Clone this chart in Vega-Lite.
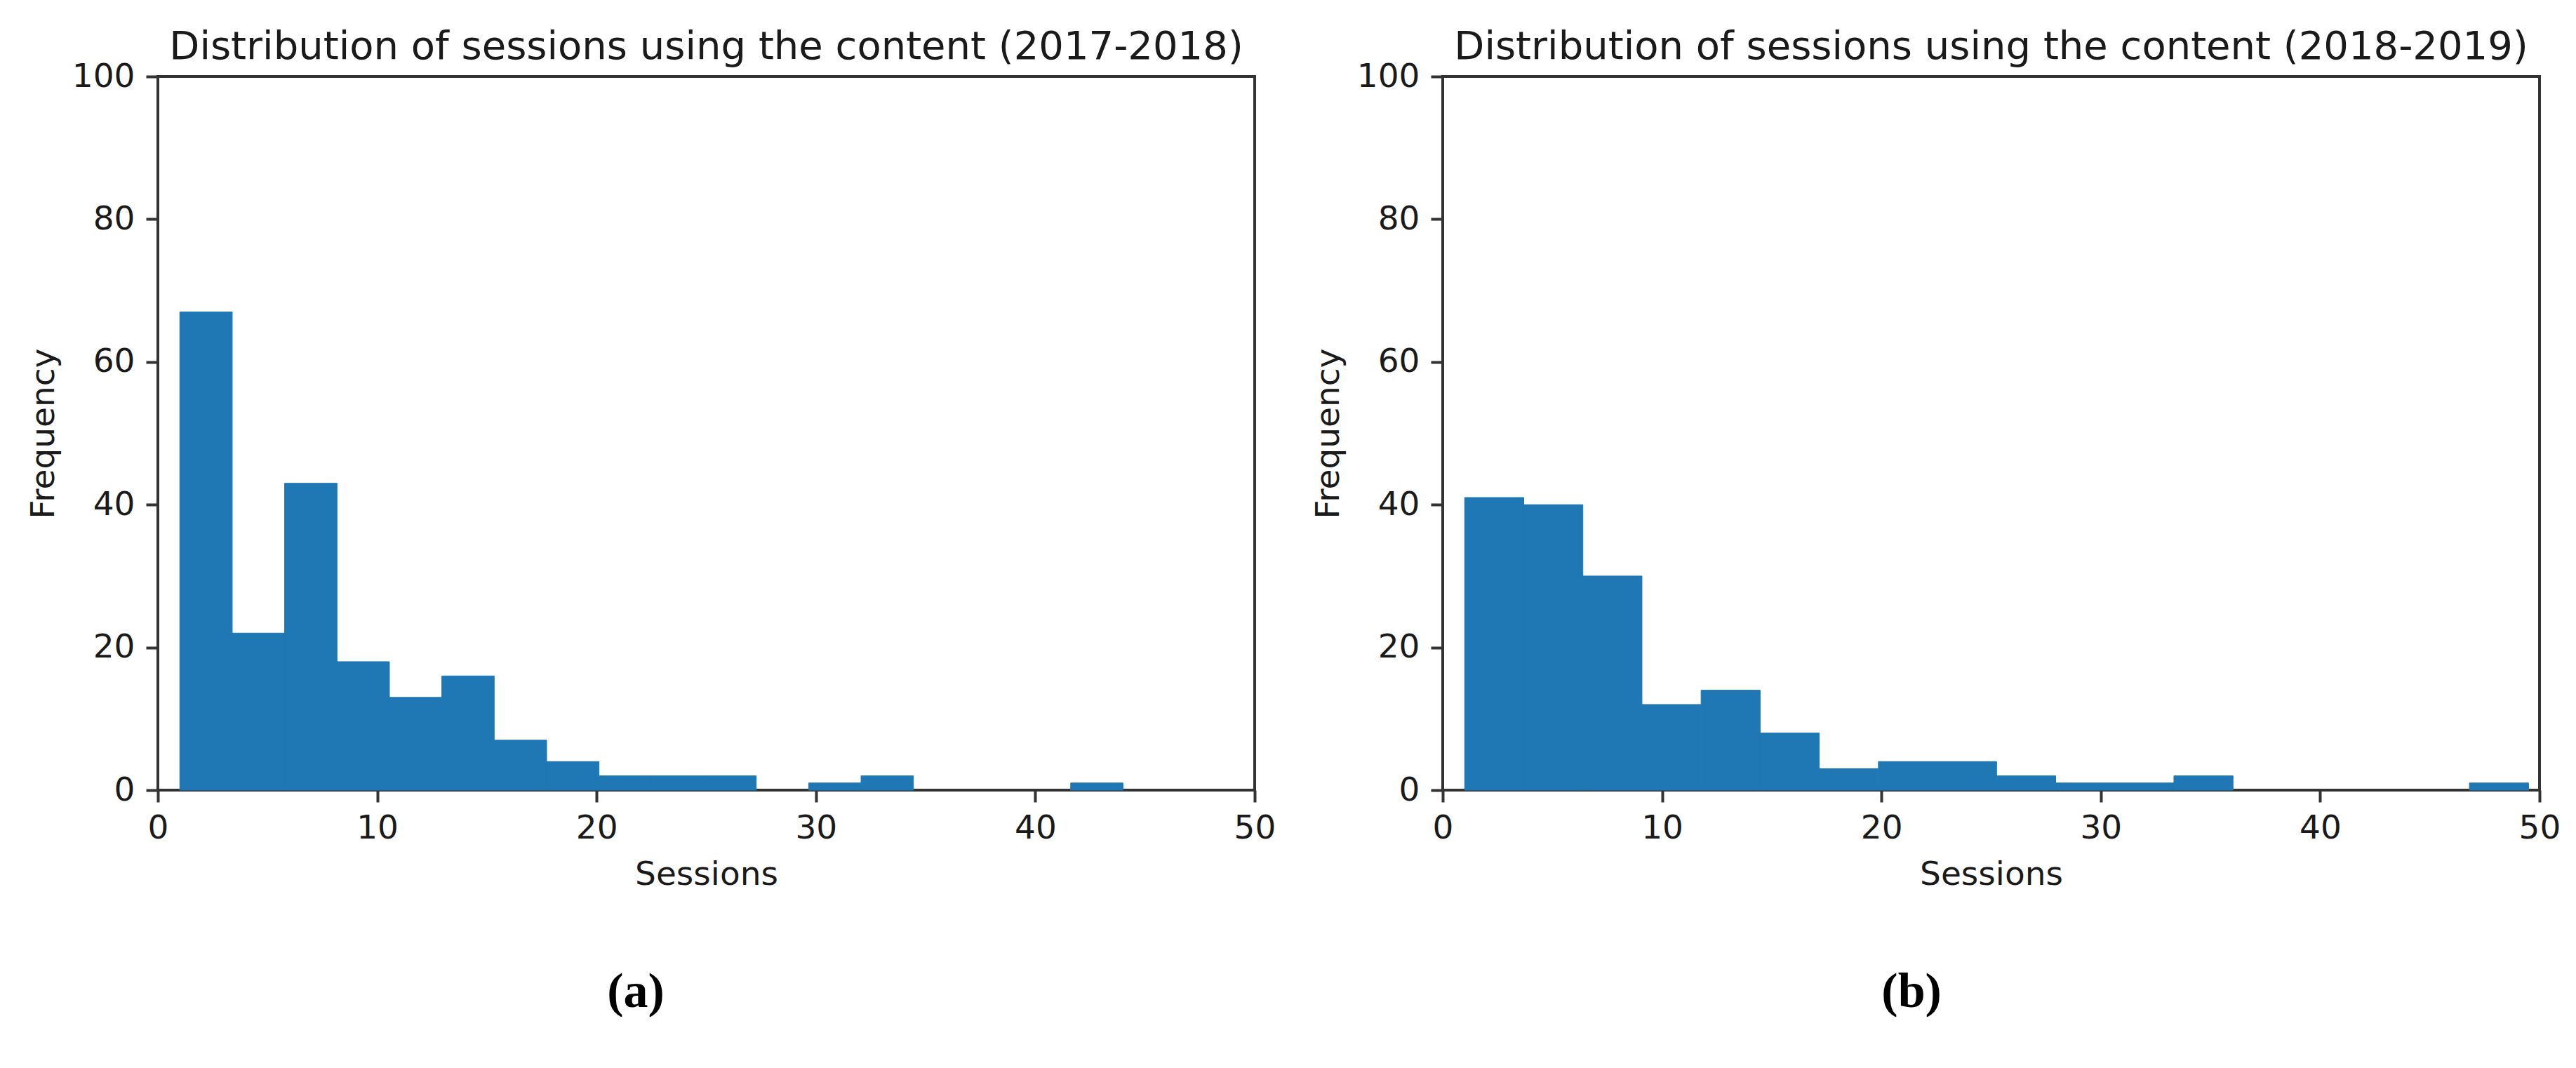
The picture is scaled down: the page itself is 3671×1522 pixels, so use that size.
{
  "$schema": "https://vega.github.io/schema/vega-lite/v6.json",
  "background": "white",
  "padding": {"left": 36, "top": 37, "right": 0, "bottom": 0},
  "datasets": {
    "a": [
      {"bin_start": 1.000, "bin_end": 3.389, "count": 67},
      {"bin_start": 3.389, "bin_end": 5.778, "count": 22},
      {"bin_start": 5.778, "bin_end": 8.167, "count": 43},
      {"bin_start": 8.167, "bin_end": 10.556, "count": 18},
      {"bin_start": 10.556, "bin_end": 12.944, "count": 13},
      {"bin_start": 12.944, "bin_end": 15.333, "count": 16},
      {"bin_start": 15.333, "bin_end": 17.722, "count": 7},
      {"bin_start": 17.722, "bin_end": 20.111, "count": 4},
      {"bin_start": 20.111, "bin_end": 22.500, "count": 2},
      {"bin_start": 22.500, "bin_end": 24.889, "count": 2},
      {"bin_start": 24.889, "bin_end": 27.278, "count": 2},
      {"bin_start": 27.278, "bin_end": 29.667, "count": 0},
      {"bin_start": 29.667, "bin_end": 32.056, "count": 1},
      {"bin_start": 32.056, "bin_end": 34.444, "count": 2},
      {"bin_start": 34.444, "bin_end": 36.833, "count": 0},
      {"bin_start": 36.833, "bin_end": 39.222, "count": 0},
      {"bin_start": 39.222, "bin_end": 41.611, "count": 0},
      {"bin_start": 41.611, "bin_end": 44.000, "count": 1}
    ],
    "b": [
      {"bin_start": 1.000, "bin_end": 3.694, "count": 41},
      {"bin_start": 3.694, "bin_end": 6.389, "count": 40},
      {"bin_start": 6.389, "bin_end": 9.083, "count": 30},
      {"bin_start": 9.083, "bin_end": 11.778, "count": 12},
      {"bin_start": 11.778, "bin_end": 14.472, "count": 14},
      {"bin_start": 14.472, "bin_end": 17.167, "count": 8},
      {"bin_start": 17.167, "bin_end": 19.861, "count": 3},
      {"bin_start": 19.861, "bin_end": 22.556, "count": 4},
      {"bin_start": 22.556, "bin_end": 25.250, "count": 4},
      {"bin_start": 25.250, "bin_end": 27.944, "count": 2},
      {"bin_start": 27.944, "bin_end": 30.639, "count": 1},
      {"bin_start": 30.639, "bin_end": 33.333, "count": 1},
      {"bin_start": 33.333, "bin_end": 36.028, "count": 2},
      {"bin_start": 36.028, "bin_end": 38.722, "count": 0},
      {"bin_start": 38.722, "bin_end": 41.417, "count": 0},
      {"bin_start": 41.417, "bin_end": 44.111, "count": 0},
      {"bin_start": 44.111, "bin_end": 46.806, "count": 0},
      {"bin_start": 46.806, "bin_end": 49.500, "count": 1}
    ]
  },
  "config": {
    "font": "DejaVu Sans",
    "view": {"stroke": "#333333", "strokeWidth": 4},
    "axis": {
      "grid": false, "domain": false,
      "tickSize": 17, "tickWidth": 4, "tickColor": "#333333",
      "labelFont": "DejaVu Sans", "labelFontSize": 47, "labelColor": "#1a1a1a",
      "labelFlush": false, "labelOverlap": false,
      "titleFont": "DejaVu Sans", "titleFontSize": 47, "titleFontWeight": "normal", "titleColor": "#1a1a1a"
    },
    "axisX": {"labelPadding": 14, "titlePadding": 20},
    "axisY": {"labelPadding": 16, "titlePadding": 16},
    "title": {"font": "DejaVu Sans", "fontSize": 56, "fontWeight": "normal", "color": "#1a1a1a"},
    "concat": {"spacing": 47}
  },
  "hconcat": [
    {
      "title": {"text": "(a)", "orient": "bottom", "anchor": "middle", "font": "Liberation Serif", "fontSize": 70, "fontWeight": "bold", "color": "black", "offset": 109, "dx": -22, "frame": "bounds"},
      "vconcat": [
        {
          "title": {"text": "Distribution of sessions using the content (2017-2018)", "baseline": "alphabetic", "offset": -55},
          "width": 1563, "height": 1017,
          "data": {"name": "a"},
          "transform": [{"filter": "datum.count > 0"}],
          "mark": {"type": "bar", "color": "#1f77b4", "stroke": "#1f77b4", "strokeWidth": 1},
          "encoding": {
            "x": {"field": "bin_start", "type": "quantitative", "scale": {"domain": [0, 50], "nice": false, "zero": false}, "axis": {"values": [0, 10, 20, 30, 40, 50], "title": "Sessions"}},
            "x2": {"field": "bin_end"},
            "y": {"field": "count", "type": "quantitative", "scale": {"domain": [0, 100], "nice": false}, "axis": {"values": [0, 20, 40, 60, 80, 100], "title": "Frequency"}},
            "y2": {"datum": 0}
          }
        }
      ]
    },
    {
      "title": {"text": "(b)", "orient": "bottom", "anchor": "middle", "font": "Liberation Serif", "fontSize": 70, "fontWeight": "bold", "color": "black", "offset": 109, "dx": -35, "frame": "bounds"},
      "vconcat": [
        {
          "title": {"text": "Distribution of sessions using the content (2018-2019)", "baseline": "alphabetic", "offset": -55},
          "width": 1563, "height": 1017,
          "data": {"name": "b"},
          "transform": [{"filter": "datum.count > 0"}],
          "mark": {"type": "bar", "color": "#1f77b4", "stroke": "#1f77b4", "strokeWidth": 1},
          "encoding": {
            "x": {"field": "bin_start", "type": "quantitative", "scale": {"domain": [0, 50], "nice": false, "zero": false}, "axis": {"values": [0, 10, 20, 30, 40, 50], "title": "Sessions"}},
            "x2": {"field": "bin_end"},
            "y": {"field": "count", "type": "quantitative", "scale": {"domain": [0, 100], "nice": false}, "axis": {"values": [0, 20, 40, 60, 80, 100], "title": "Frequency"}},
            "y2": {"datum": 0}
          }
        }
      ]
    }
  ]
}
